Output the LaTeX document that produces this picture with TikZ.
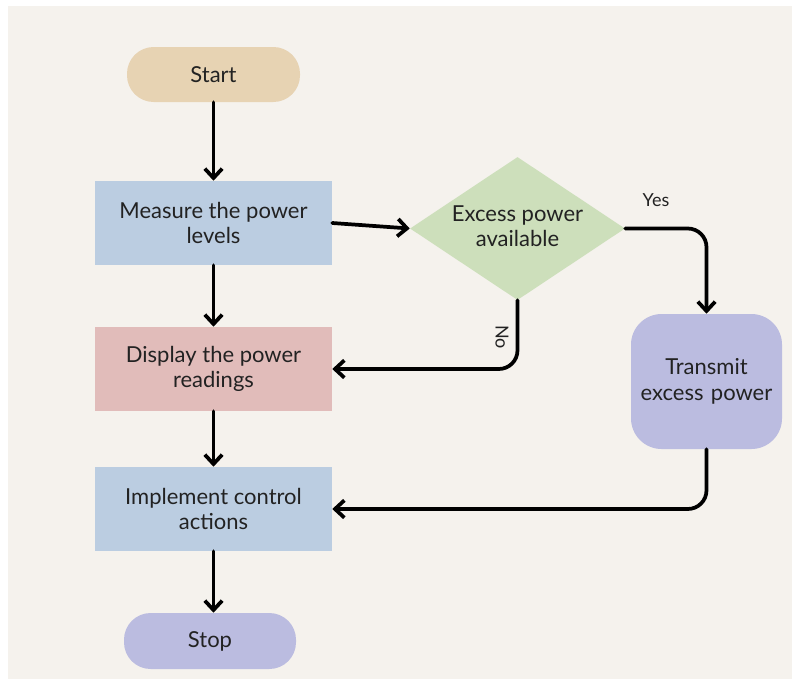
\documentclass[tikz,border=0pt]{standalone}
\usepackage{fontspec}
\setmainfont{Lato}
\usetikzlibrary{shapes.geometric,arrows.meta}
\definecolor{bg}{HTML}{F5F2ED}
\definecolor{ctan}{HTML}{E7D3B3}
\definecolor{cblue}{HTML}{BBCDE1}
\definecolor{cgreen}{HTML}{CDDFBB}
\definecolor{cpink}{HTML}{E1BCBA}
\definecolor{clav}{HTML}{BBBCE0}
\definecolor{ctext}{HTML}{222222}
\tikzset{
  box/.style={rectangle, minimum width=177.75pt, minimum height=63pt, inner sep=0pt, align=center, text=ctext, font=\fontsize{16.5}{19}\selectfont},
  pill/.style={rectangle, rounded corners=20pt, inner sep=0pt, align=center, text=ctext, font=\fontsize{16.5}{19}\selectfont},
  lbl/.style={align=center, text=ctext, font=\fontsize{16.5}{19}\selectfont},
  small/.style={text=ctext, font=\fontsize{13.5}{16}\selectfont, inner sep=0pt},
  arr/.style={line width=2.8pt, -{Straight Barb[length=7pt,width=13pt,line width=2.8pt]}, line cap=round, line join=round}
}
\begin{document}
\begin{tikzpicture}[x=0.75pt,y=-0.75pt]
\fill[white] (0,0) rectangle (792,679);
\fill[bg] (8,6) rectangle (792,679);
\useasboundingbox (0,0) rectangle (792,679);

\node[pill, fill=ctan, minimum width=129.75pt, minimum height=41.25pt] (start) at (213.5,74.5) {Start};
\node[box, fill=cblue] (measure) at (213.5,223) {Measure the power\\levels};
\node[diamond, fill=cgreen, minimum width=161.25pt, minimum height=107.25pt, inner sep=0pt, aspect=1.5] (dia) at (517.5,228.5) {};
\node[lbl] (dialbl) at (517.5,226) {Excess power\\available};
\node[box, fill=cpink] (display) at (213.5,369) {Display the power\\readings};
\node[pill, fill=clav, rounded corners=23pt, minimum width=113.25pt, minimum height=101.25pt, text width=112pt] (trans) at (706.5,381.5) {Transmit\\excess power};
\node[box, fill=cblue] (impl) at (213.5,509) {Implement control\\actions};
\node[pill, fill=clav, minimum width=129pt, minimum height=42pt] (stop) at (210,641) {Stop};

\draw[arr] (start) -- (measure);
\draw[arr] (measure) -- (display);
\draw[arr] (display) -- (impl);
\draw[arr] (impl) -- (impl |- stop.north);
\draw[arr] (measure.east) -- (dia.west);
\draw[arr, rounded corners=14pt] (dia.east) -| (trans.north);
\draw[arr, rounded corners=14pt] (dia.south) |- (display.east);
\draw[arr, rounded corners=14pt] (trans.south) |- (impl.east);

\node[small] (yes) at (656,200) {Yes};
\node[small, rotate=-90] (no) at (502,337) {No};
\end{tikzpicture}
\end{document}
